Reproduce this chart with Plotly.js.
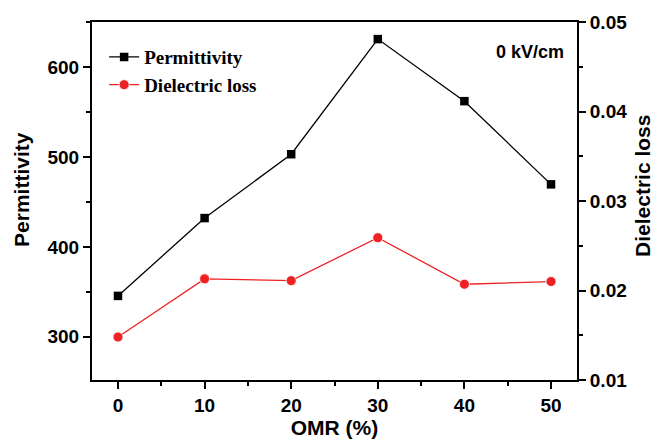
<!DOCTYPE html>
<html>
<head>
<meta charset="utf-8">
<script src="https://cdn.plot.ly/plotly-3.0.1.min.js"></script>
<style>html,body{margin:0;padding:0;background:#fff;}#chart{width:657px;height:442px;}</style>
</head>
<body>
<div id="chart"></div>
<script>
const omr = [0, 10, 20, 30, 40, 50];
const permittivity = [345.5, 432, 503, 631, 562, 469.5];
const dielectricLoss = [0.0148, 0.0213, 0.0211, 0.0259, 0.0207, 0.0210];
const xTicks = [0, 10, 20, 30, 40, 50];
const yTicks = [300, 400, 500, 600];
const y2Ticks = [0.01, 0.02, 0.03, 0.04, 0.05];
const y2TickText = ['0.01', '0.02', '0.03', '0.04', '0.05'];

const tickFont = {family: 'Liberation Sans, Arial, sans-serif', size: 19, color: '#000', weight: 'bold'};
const titleFont = {family: 'Liberation Sans, Arial, sans-serif', size: 21, color: '#000', weight: 'bold'};

const traces = [
  {
    x: omr, y: permittivity, name: 'Permittivity', type: 'scatter', mode: 'lines+markers',
    line: {color: '#000', width: 1.3},
    marker: {symbol: 'square', size: 8.5, color: '#000'},
    yaxis: 'y'
  },
  {
    x: omr, y: dielectricLoss, name: 'Dielectric loss', type: 'scatter', mode: 'lines+markers',
    line: {color: '#ee2222', width: 1.3},
    marker: {symbol: 'circle', size: 10, color: '#ee2222', line: {color: '#fff', width: 0.8}},
    yaxis: 'y2'
  }
];

const layout = {
  width: 657, height: 442,
  margin: {l: 92, r: 80, t: 22, b: 62},
  paper_bgcolor: '#fff', plot_bgcolor: '#fff',
  showlegend: true,
  legend: {
    x: 0.025, y: 0.955, xanchor: 'left', yanchor: 'top',
    font: {family: 'Liberation Serif, Times New Roman, serif', size: 19, color: '#000', weight: 'bold'},
    bgcolor: 'rgba(0,0,0,0)', tracegroupgap: 0
  },
  xaxis: {
    range: [-3, 53], tickvals: xTicks, ticktext: xTicks.map(String),
    showline: true, linecolor: '#000', linewidth: 2, mirror: true,
    ticks: 'outside', ticklen: 7, tickwidth: 2, tickcolor: '#000',
    minor: {dtick: 5, tick0: 0, ticks: 'outside', ticklen: 4, tickwidth: 2, tickcolor: '#000'},
    showgrid: false, zeroline: false, tickfont: tickFont,
    title: {text: 'OMR (%)', font: titleFont, standoff: 2}
  },
  yaxis: {
    range: [252, 650], tickvals: yTicks, ticktext: yTicks.map(String),
    showline: true, linecolor: '#000', linewidth: 2,
    ticks: 'outside', ticklen: 7, tickwidth: 2, tickcolor: '#000',
    minor: {dtick: 50, tick0: 0, ticks: 'outside', ticklen: 4, tickwidth: 2, tickcolor: '#000'},
    showgrid: false, zeroline: false, tickfont: tickFont
  },
  yaxis2: {
    overlaying: 'y', side: 'right',
    range: [0.01, 0.05], tickvals: y2Ticks, ticktext: y2TickText,
    showline: true, linecolor: '#000', linewidth: 2,
    ticks: 'outside', ticklen: 7, tickwidth: 2, tickcolor: '#000',
    minor: {dtick: 0.005, tick0: 0, ticks: 'outside', ticklen: 4, tickwidth: 2, tickcolor: '#000'},
    showgrid: false, zeroline: false, tickfont: tickFont
  },
  annotations: [
    {xref: 'paper', yref: 'paper', x: 0.978, y: 0.915, xanchor: 'right', yanchor: 'middle',
     text: '0 kV/cm', showarrow: false,
     font: {family: 'Liberation Sans, Arial, sans-serif', size: 18, color: '#000', weight: 'bold'}},
    {xref: 'paper', yref: 'paper', x: -0.1443, y: 0.531, xanchor: 'center', yanchor: 'middle',
     text: 'Permittivity', textangle: -90, showarrow: false, font: titleFont},
    {xref: 'paper', yref: 'paper', x: 1.136, y: 0.542, xanchor: 'center', yanchor: 'middle',
     text: 'Dielectric loss', textangle: -90, showarrow: false, font: titleFont}
  ]
};

Plotly.newPlot('chart', traces, layout, {displayModeBar: false, staticPlot: true});
</script>
</body>
</html>
